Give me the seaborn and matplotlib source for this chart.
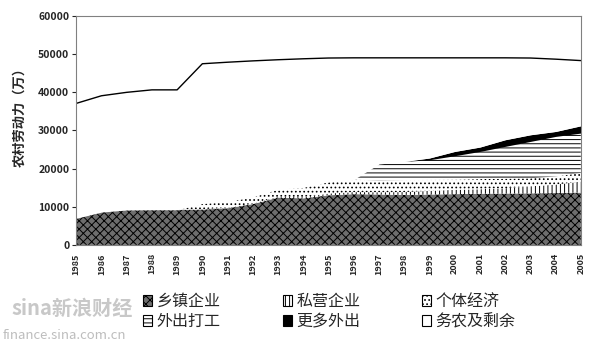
import matplotlib
matplotlib.use("Agg")
import matplotlib.pyplot as plt
from matplotlib.patches import Patch
import numpy as np
import pandas as pd
import seaborn as sns

years = list(range(1985, 2006))

# rural labour force (10k persons)
total = [37100, 39100, 40000, 40650, 40650, 47500, 47900, 48250, 48550, 48800, 49000,
         49050, 49050, 49050, 49050, 49050, 49050, 49050, 49000, 48700, 48330]
township = [6980, 8600, 9150, 9200, 9200, 9250, 9600, 10700, 12400, 12200, 13000,
            13300, 13200, 13100, 13200, 13300, 13400, 13450, 13500, 13600, 13700]
private = [0, 0, 0, 0, 0, 100, 120, 140, 190, 320, 470,
           550, 600, 740, 970, 1140, 1190, 1410, 1850, 2200, 2900]
individual = [0, 0, 0, 0, 0, 1490, 1620, 1730, 2010, 2550, 3050,
              3300, 3030, 3160, 2880, 2660, 2660, 2500, 2100, 2160, 2250]
migrant = [0, 0, 0, 0, 0, 0, 0, 0, 0, 0, 0,
           0, 4370, 4880, 5280, 6280, 7250, 8470, 9680, 10480, 10470]
more_migrant = [0, 0, 0, 0, 0, 0, 0, 0, 0, 0, 0,
                0, 0, 0, 450, 1120, 1150, 1740, 1740, 1300, 1910]

labels = ["乡镇企业", "私营企业", "个体经济", "外出打工", "更多外出", "务农及剩余"]

df = pd.DataFrame({"year": years, "total": total, "乡镇企业": township,
                   "私营企业": private, "个体经济": individual,
                   "外出打工": migrant, "更多外出": more_migrant})
df["务农及剩余"] = df["total"] - df[labels[:5]].sum(axis=1)

sns.set_theme(style="white")
plt.rcParams['font.family'] = ['Noto Sans CJK SC', 'DejaVu Sans']
plt.rcParams['hatch.linewidth'] = 0.7
plt.rcParams['hatch.color'] = 'black'

styles = {
    "乡镇企业": dict(facecolor="#6e6e6e", hatch="xxxx"),
    "私营企业": dict(facecolor="white", hatch="||||"),
    "个体经济": dict(facecolor="white", hatch="...."),
    "外出打工": dict(facecolor="white", hatch="----"),
    "更多外出": dict(facecolor="black", hatch=None),
    "务农及剩余": dict(facecolor="white", hatch=None),
}

fig = plt.figure(figsize=(6, 3.42), dpi=100)
ax = fig.add_axes([0.127, 0.284, 0.841, 0.669])

base = np.zeros(len(df))
for name in labels:
    top = base + df[name].values
    ax.fill_between(df["year"], base, top, facecolor=styles[name]["facecolor"],
                    hatch=styles[name]["hatch"], edgecolor="black", linewidth=0)
    base = top

sns.lineplot(data=df, x="year", y="total", color="black", linewidth=1, ax=ax)

ax.set_xlim(1985, 2005)
ax.set_ylim(0, 60000)
ax.set_yticks(range(0, 60001, 10000))
ax.set_yticklabels([str(v) for v in range(0, 60001, 10000)], fontsize=7.5, fontweight="bold")
ax.set_xticks(years)
ax.set_xticklabels([str(y) for y in years], rotation=90, fontsize=6.5, fontweight="bold")
ax.tick_params(axis="y", which="major", length=3, width=0.8, left=True, pad=2)
ax.tick_params(axis="x", length=0, pad=6)
ax.set_xlabel("")
ax.set_ylabel("农村劳动力（万）", fontsize=9.5, fontweight="bold")
ax.yaxis.set_label_coords(-0.098, 0.57)
for sp in ax.spines.values():
    sp.set_color("#808080")
    sp.set_linewidth(0.8)

# legend: three columns, two rows
cols = [(labels[0], labels[3]), (labels[1], labels[4]), (labels[2], labels[5])]
col_x = [0.238, 0.472, 0.703]
for names, x in zip(cols, col_x):
    handles = [Patch(facecolor=styles[n]["facecolor"], hatch=styles[n]["hatch"],
                     edgecolor="black", linewidth=0.8, label=n) for n in names]
    fig.legend(handles=handles, loc="center left", bbox_to_anchor=(x, 0.089),
               frameon=False, fontsize=11.5, handlelength=0.55, handleheight=0.65,
               handletextpad=0.3, labelspacing=0.2, borderpad=0, borderaxespad=0)

# source watermark
fig.text(0.02, 0.078, "sina新浪财经", fontsize=14.5, color="#c8c8c8", style="italic",
         fontweight="bold")
fig.text(0.004, 0.008, "finance.sina.com.cn", fontsize=9.5, color="#bdbdbd")

fig.savefig("out.png", dpi=100)
